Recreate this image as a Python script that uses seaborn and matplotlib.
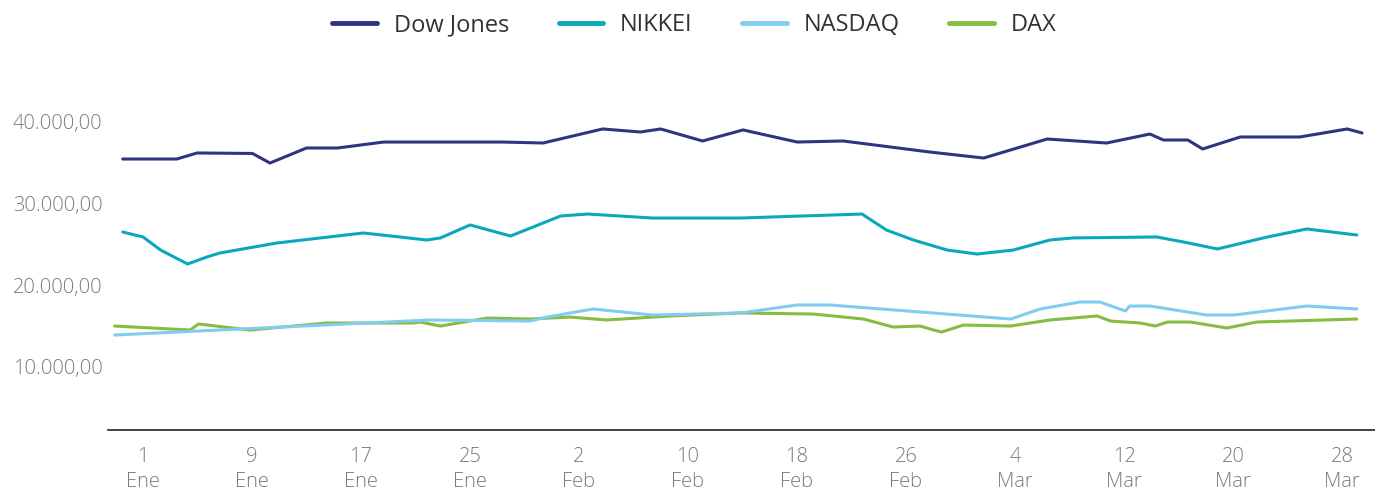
import matplotlib
matplotlib.use("Agg")
import matplotlib.pyplot as plt
import numpy as np
import pandas as pd
import seaborn as sns

# ---------------------------------------------------------------------------
# Data (x = days since 1 Ene)
# ---------------------------------------------------------------------------
dow_x = [-1.49, 2.48, 3.97, 8.03, 9.32, 12.0, 14.28, 17.66, 20.83, 26.39,
         29.36, 33.73, 36.5, 37.99, 41.07, 44.04, 48.01, 51.38, 57.73, 61.7,
         66.36, 70.72, 73.9, 74.89, 76.68, 77.77, 80.54, 84.91, 88.38, 89.47]
dow_y = [35460, 35460, 36200, 36140, 34970, 36810, 36810, 37540, 37540, 37540,
         37420, 39140, 38770, 39140, 37670, 39020, 37540, 37670, 36320, 35580,
         37910, 37420, 38520, 37790, 37790, 36690, 38160, 38160, 39140, 38650]

nikkei_x = [-1.49, 0.0, 1.29, 3.27, 4.76, 5.65, 9.82, 16.17, 20.83, 21.82,
            24.0, 26.98, 30.65, 32.63, 37.4, 43.84, 52.77, 54.56, 56.54, 59.02,
            61.2, 63.88, 66.56, 68.24, 74.39, 76.38, 78.86, 82.53, 85.41, 89.08]
nikkei_y = [26520, 25910, 24310, 22600, 23500, 23950, 25170, 26400, 25540,
            25790, 27380, 26030, 28480, 28720, 28230, 28230, 28720, 26760,
            25540, 24310, 23820, 24310, 25540, 25790, 25910, 25290, 24440,
            25910, 26890, 26150]

nasdaq_x = [-2.08, 21.03, 28.37, 29.66, 33.03, 37.4, 43.84, 48.01, 50.39,
            63.68, 65.86, 68.74, 70.23, 72.11, 72.41, 73.9, 78.06, 80.05,
            85.41, 89.08]
nasdaq_y = [13900, 15740, 15610, 16100, 17090, 16350, 16600, 17580, 17580,
            15860, 17090, 17940, 17940, 16840, 17450, 17450, 16350, 16350,
            17450, 17090]

dax_x = [-2.08, 3.47, 4.07, 7.84, 13.49, 19.84, 20.33, 21.82, 25.29, 28.37,
         31.34, 34.02, 38.69, 43.84, 49.2, 52.87, 55.05, 57.04, 58.03, 58.62,
         60.21, 63.68, 66.56, 70.03, 71.02, 73.2, 74.3, 75.19, 76.87, 79.55,
         81.74, 89.08]
dax_y = [15000, 14510, 15250, 14510, 15370, 15370, 15490, 15000, 15980, 15860,
         16100, 15740, 16230, 16600, 16470, 15860, 14880, 15000, 14510, 14270,
         15120, 15000, 15740, 16230, 15610, 15370, 15000, 15490, 15490, 14760,
         15490, 15860]

series_names = ["Dow Jones", "NIKKEI", "NASDAQ", "DAX"]
colors = ["#2E3480", "#0AA8BB", "#80CDF0", "#86BC42"]

x_ticks = [0, 8, 16, 24, 32, 40, 48, 56, 64, 72, 80, 88]
x_labels = ["1\nEne", "9\nEne", "17\nEne", "25\nEne", "2\nFeb", "10\nFeb",
            "18\nFeb", "26\nFeb", "4\nMar", "12\nMar", "20\nMar", "28\nMar"]
y_ticks = [10000, 20000, 30000, 40000]
y_labels = ["10.000,00", "20.000,00", "30.000,00", "40.000,00"]

# ---------------------------------------------------------------------------
# Long-form table
# ---------------------------------------------------------------------------
frames = []
for name, xs, ys in zip(series_names,
                        [dow_x, nikkei_x, nasdaq_x, dax_x],
                        [dow_y, nikkei_y, nasdaq_y, dax_y]):
    frames.append(pd.DataFrame({"day": xs, "value": ys, "index": name}))
df = pd.concat(frames, ignore_index=True)

# ---------------------------------------------------------------------------
# Plot
# ---------------------------------------------------------------------------
sns.set_style("white")
plt.rcParams["font.family"] = ["Open Sans", "DejaVu Sans"]

fig = plt.figure(figsize=(13.75, 4.9), dpi=100)
ax = fig.add_axes([108 / 1375, 1 - 430 / 490, 1 - 108 / 1375, 370 / 490])

draw_order = ["Dow Jones", "NIKKEI", "DAX", "NASDAQ"]
palette = dict(zip(series_names, colors))
sns.lineplot(data=df, x="day", y="value", hue="index", hue_order=draw_order,
             palette=palette, estimator=None, errorbar=None, sort=True,
             linewidth=2.2, ax=ax, legend=False)

ax.set_xlim(-2.57, 90.42)
ax.set_ylim(2264, 47589)
ax.set_xticks(x_ticks)
ax.set_xticklabels(x_labels, fontsize=14.5, color="#7a7a7a",
                   fontweight="light", linespacing=1.35)
ax.set_yticks(y_ticks)
ax.set_yticklabels(y_labels, fontsize=14.5, color="#7a7a7a",
                   fontweight="light")
ax.tick_params(axis="both", length=0)
ax.tick_params(axis="x", pad=12)
ax.tick_params(axis="y", pad=4)
ax.set_xlabel("")
ax.set_ylabel("")
for side in ["left", "right", "top"]:
    ax.spines[side].set_visible(False)
ax.spines["bottom"].set_color("#222222")
ax.spines["bottom"].set_linewidth(1.2)
ax.grid(False)

handles = [plt.Line2D([0], [0], color=c, lw=3.5, solid_capstyle="round")
           for c in colors]
fig.legend(handles, series_names, loc="center", bbox_to_anchor=(0.505, 0.948),
           ncol=4, frameon=False, fontsize=17, handlelength=1.9,
           handletextpad=0.7, columnspacing=2.1, labelcolor="#333333")

fig.savefig("out.png", dpi=100)
plt.close(fig)
